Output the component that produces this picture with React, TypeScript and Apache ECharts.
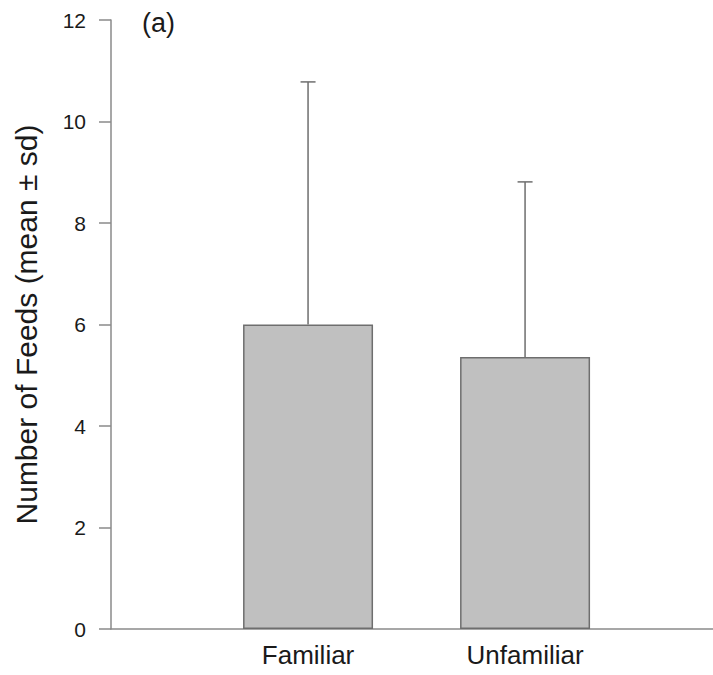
import React, { useEffect, useRef } from "react";
import * as echarts from "echarts";

const categories = ["Familiar", "Unfamiliar"];
const positions = [1, 2];
const means = [6.0, 5.36];
const sds = [4.78, 3.45];
const yTicks = [0, 2, 4, 6, 8, 10, 12];

const FONT = "'Liberation Sans', Arial, Helvetica, sans-serif";
const AXIS_COLOR = "#8a8a8a";
const TEXT_COLOR = "#1a1a1a";

export default function App() {
  const ref = useRef<HTMLDivElement>(null);
  useEffect(() => {
    if (!ref.current) return;
    const chart = echarts.init(ref.current, undefined, { renderer: "svg" });
    const barData = positions.map((p, i) => [p, means[i]]);
    const errData = positions.map((p, i) => [p, means[i], means[i] + sds[i]]);
    chart.setOption({
      animation: false,
      backgroundColor: "#fff",
      grid: { left: 111, right: 0, top: 20, bottom: 46, containLabel: false },
      xAxis: {
        type: "value",
        min: 0.092,
        max: 2.866,
        splitLine: { show: false },
        axisTick: { show: false },
        axisLine: { show: true, onZero: false, lineStyle: { color: AXIS_COLOR, width: 1.5 } },
        axisLabel: {
          customValues: positions,
          formatter: (v: number) => categories[Math.round(v) - 1] ?? "",
          fontSize: 26,
          fontFamily: FONT,
          color: TEXT_COLOR,
          margin: 13,
        },
      },
      yAxis: {
        type: "value",
        min: yTicks[0],
        max: yTicks[yTicks.length - 1],
        interval: 2,
        name: "Number of Feeds (mean ± sd)",
        nameLocation: "middle",
        nameGap: 70,
        nameTextStyle: { fontSize: 30, fontFamily: FONT, color: TEXT_COLOR },
        splitLine: { show: false },
        axisLine: { show: true, onZero: false, lineStyle: { color: AXIS_COLOR, width: 1.5 } },
        axisTick: { show: true, length: 12, lineStyle: { color: AXIS_COLOR, width: 1.5 } },
        axisLabel: { fontSize: 21, fontFamily: FONT, color: TEXT_COLOR, margin: 25 },
      },
      series: [
        {
          type: "bar",
          data: barData,
          barWidth: 130,
          itemStyle: { color: "#c0c0c0", borderColor: "#6e6e6e", borderWidth: 1.5 },
          z: 2,
        },
        {
          type: "custom",
          data: errData,
          z: 3,
          renderItem: (params: any, api: any) => {
            const x = api.value(0);
            const lo = api.coord([x, api.value(1)]);
            const hi = api.coord([x, api.value(2)]);
            const cap = 7.5;
            return {
              type: "group",
              children: [
                {
                  type: "line",
                  shape: { x1: lo[0], y1: lo[1], x2: hi[0], y2: hi[1] },
                  style: { stroke: "#6e6e6e", lineWidth: 1.5 },
                },
                {
                  type: "line",
                  shape: { x1: hi[0] - cap, y1: hi[1], x2: hi[0] + cap, y2: hi[1] },
                  style: { stroke: "#6e6e6e", lineWidth: 1.5 },
                },
              ],
            };
          },
        },
      ],
      graphic: [
        {
          type: "text",
          left: 142,
          top: 9,
          style: { text: "(a)", fontSize: 27, fontFamily: FONT, fill: TEXT_COLOR },
        },
      ],
    });
    return () => chart.dispose();
  }, []);
  return (
    <div
      ref={ref}
      style={{ position: "fixed", left: 0, top: 0, width: 713, height: 675, background: "#fff" }}
    />
  );
}
